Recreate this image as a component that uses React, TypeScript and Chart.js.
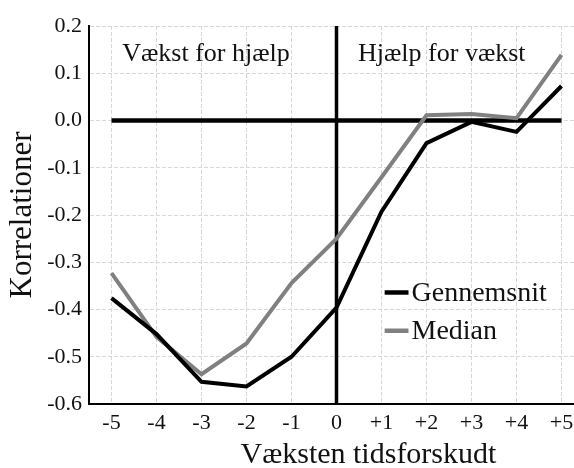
import React, { useEffect, useRef } from "react";
import { Chart, registerables } from "chart.js";

Chart.register(...registerables);

const lags = [-5, -4, -3, -2, -1, 0, 1, 2, 3, 4, 5];
const lagLabels = ["-5", "-4", "-3", "-2", "-1", "0", "+1", "+2", "+3", "+4", "+5"];
const gennemsnit = [-0.376, -0.452, -0.553, -0.563, -0.5, -0.396, -0.193, -0.048, -0.003, -0.024, 0.073];
const median = [-0.323, -0.458, -0.537, -0.472, -0.344, -0.25, -0.12, 0.011, 0.014, 0.005, 0.139];
const yTicks = [-0.6, -0.5, -0.4, -0.3, -0.2, -0.1, 0.0, 0.1, 0.2];
const seriesNames = ["Gennemsnit", "Median"];
const seriesColors = ["#000000", "#808080"];
const annotations = [
  { text: "Vækst for hjælp", x: -2.9, y: 0.126 },
  { text: "Hjælp for vækst", x: 2.34, y: 0.126 },
];
const yTitle = "Korrelationer";
const xTitle = "Væksten tidsforskudt";

const FONT = '"Liberation Serif", "Times New Roman", serif';

const overlayPlugin = {
  id: "overlay",
  afterDatasetsDraw(chart: any) {
    const { ctx, scales, chartArea } = chart;
    const x = scales.x;
    const y = scales.y;
    ctx.save();
    ctx.fillStyle = "#111";
    ctx.textAlign = "center";
    ctx.textBaseline = "alphabetic";
    ctx.font = `26px ${FONT}`;
    annotations.forEach((a) => {
      ctx.fillText(a.text, x.getPixelForValue(a.x), y.getPixelForValue(a.y));
    });
    // legend
    const legendY = [-0.364, -0.445];
    const lx0 = x.getPixelForValue(1.07);
    const lx1 = x.getPixelForValue(1.6);
    ctx.font = `28px ${FONT}`;
    ctx.textAlign = "left";
    ctx.textBaseline = "middle";
    seriesNames.forEach((name, i) => {
      const py = y.getPixelForValue(legendY[i]);
      ctx.strokeStyle = seriesColors[i];
      ctx.lineWidth = 4.5;
      ctx.beginPath();
      ctx.moveTo(lx0, py);
      ctx.lineTo(lx1, py);
      ctx.stroke();
      ctx.fillStyle = "#111";
      ctx.fillText(name, lx1 + 3, py + 1);
    });
    // x title
    ctx.font = `30px ${FONT}`;
    ctx.textAlign = "center";
    ctx.textBaseline = "alphabetic";
    ctx.fillText(xTitle, x.getPixelForValue(0.71), chartArea.bottom + 59);
    ctx.restore();
  },
};

export default function App() {
  const ref = useRef<HTMLCanvasElement | null>(null);
  useEffect(() => {
    if (!ref.current) return;
    const chart = new Chart(ref.current, {
      type: "line",
      data: {
        datasets: [
          {
            label: seriesNames[0],
            data: lags.map((l, i) => ({ x: l, y: gennemsnit[i] })),
            borderColor: seriesColors[0],
            borderWidth: 4,
            pointRadius: 0,
            tension: 0,
          },
          {
            label: seriesNames[1],
            data: lags.map((l, i) => ({ x: l, y: median[i] })),
            borderColor: seriesColors[1],
            borderWidth: 4,
            pointRadius: 0,
            tension: 0,
          },
          {
            label: "v0",
            data: [
              { x: 0, y: yTicks[0] },
              { x: 0, y: yTicks[yTicks.length - 1] },
            ],
            borderColor: "#000",
            borderWidth: 3.5,
            pointRadius: 0,
          },
          {
            label: "h0",
            data: [
              { x: lags[0], y: 0 },
              { x: lags[lags.length - 1], y: 0 },
            ],
            borderColor: "#000",
            borderWidth: 4.5,
            pointRadius: 0,
          },
        ],
      },
      options: {
        animation: false,
        responsive: false,
        layout: { padding: { top: 26, left: 0, right: 16, bottom: 0 } },
        plugins: { legend: { display: false }, tooltip: { enabled: false } },
        scales: {
          x: {
            type: "linear",
            min: -5.5,
            max: 5.5,
            afterBuildTicks: (scale: any) => {
              scale.ticks = lags.map((v) => ({ value: v }));
            },
            afterFit: (scale: any) => {
              scale.height = 64;
            },
            ticks: {
              callback: (v: any) => {
                const i = lags.indexOf(Number(v));
                return i >= 0 ? lagLabels[i] : "";
              },
              color: "#111",
              font: { family: FONT, size: 22 },
              padding: 6,
              maxRotation: 0,
              autoSkip: false,
            },
            grid: { color: "#d8d8d8", lineWidth: 1, drawTicks: false },
            border: { display: true, color: "#000", width: 2, dash: [4, 2] },
          },
          y: {
            min: -0.6,
            max: 0.2,
            afterBuildTicks: (scale: any) => {
              scale.ticks = yTicks.map((v) => ({ value: v }));
            },
            afterFit: (scale: any) => {
              scale.width = 89;
            },
            ticks: {
              callback: (v: any) => Number(v).toFixed(1),
              color: "#111",
              font: { family: FONT, size: 22 },
              padding: 7,
            },
            grid: { color: "#d8d8d8", lineWidth: 1, drawTicks: false },
            border: { display: true, color: "#000", width: 2, dash: [4, 2] },
            title: {
              display: true,
              text: yTitle,
              color: "#111",
              font: { family: FONT, size: 31 },
              padding: { top: 4, bottom: 0 },
            },
          },
        },
      },
      plugins: [overlayPlugin],
    } as any);
    return () => chart.destroy();
  }, []);
  return (
    <div style={{ position: "fixed", left: 0, top: 0, width: 600, height: 468, background: "#fff" }}>
      <canvas ref={ref} width={600} height={468} style={{ display: "block" }} />
    </div>
  );
}
